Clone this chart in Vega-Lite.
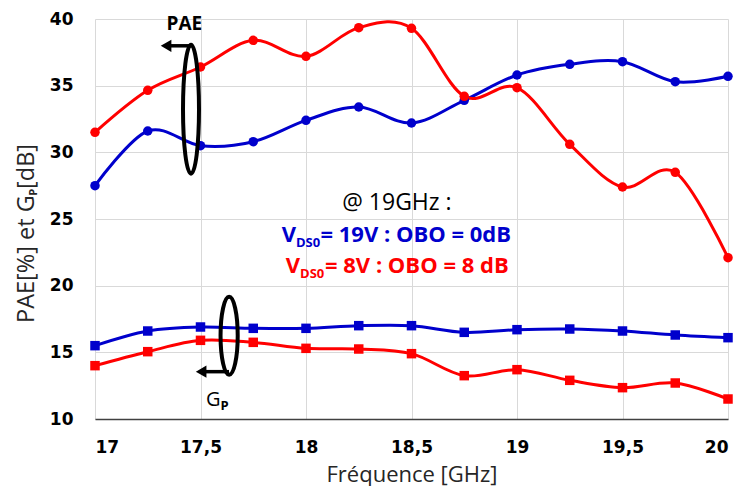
{
  "$schema": "https://vega.github.io/schema/vega-lite/v6.json",
  "width": 633,
  "height": 400,
  "autosize": {"type": "none"},
  "padding": {"left": 95, "top": 19, "right": 12, "bottom": 67},
  "background": "white",
  "config": {
    "view": {"stroke": null},
    "axis": {"gridColor": "#d9d9d9", "gridWidth": 1, "ticks": false, "labelFont": "DejaVu Sans", "labelFontWeight": "bold", "labelFontSize": 17, "labelColor": "#000000"}
  },
  "data": {"values": [
    {"f": 17, "m": "PAE", "b": "19V", "v": 27.5},
    {"f": 17.25, "m": "PAE", "b": "19V", "v": 31.6},
    {"f": 17.5, "m": "PAE", "b": "19V", "v": 30.5},
    {"f": 17.75, "m": "PAE", "b": "19V", "v": 30.8},
    {"f": 18, "m": "PAE", "b": "19V", "v": 32.4},
    {"f": 18.25, "m": "PAE", "b": "19V", "v": 33.4},
    {"f": 18.5, "m": "PAE", "b": "19V", "v": 32.2},
    {"f": 18.75, "m": "PAE", "b": "19V", "v": 33.9},
    {"f": 19, "m": "PAE", "b": "19V", "v": 35.8},
    {"f": 19.25, "m": "PAE", "b": "19V", "v": 36.6},
    {"f": 19.5, "m": "PAE", "b": "19V", "v": 36.8},
    {"f": 19.75, "m": "PAE", "b": "19V", "v": 35.3},
    {"f": 20, "m": "PAE", "b": "19V", "v": 35.7},
    {"f": 17, "m": "PAE", "b": "8V", "v": 31.5},
    {"f": 17.25, "m": "PAE", "b": "8V", "v": 34.65},
    {"f": 17.5, "m": "PAE", "b": "8V", "v": 36.4},
    {"f": 17.75, "m": "PAE", "b": "8V", "v": 38.4},
    {"f": 18, "m": "PAE", "b": "8V", "v": 37.2},
    {"f": 18.25, "m": "PAE", "b": "8V", "v": 39.35},
    {"f": 18.5, "m": "PAE", "b": "8V", "v": 39.3},
    {"f": 18.75, "m": "PAE", "b": "8V", "v": 34.2},
    {"f": 19, "m": "PAE", "b": "8V", "v": 34.85},
    {"f": 19.25, "m": "PAE", "b": "8V", "v": 30.6},
    {"f": 19.5, "m": "PAE", "b": "8V", "v": 27.4},
    {"f": 19.75, "m": "PAE", "b": "8V", "v": 28.5},
    {"f": 20, "m": "PAE", "b": "8V", "v": 22.1},
    {"f": 17, "m": "Gp", "b": "19V", "v": 15.5},
    {"f": 17.25, "m": "Gp", "b": "19V", "v": 16.6},
    {"f": 17.5, "m": "Gp", "b": "19V", "v": 16.9},
    {"f": 17.75, "m": "Gp", "b": "19V", "v": 16.8},
    {"f": 18, "m": "Gp", "b": "19V", "v": 16.8},
    {"f": 18.25, "m": "Gp", "b": "19V", "v": 17.0},
    {"f": 18.5, "m": "Gp", "b": "19V", "v": 17.0},
    {"f": 18.75, "m": "Gp", "b": "19V", "v": 16.5},
    {"f": 19, "m": "Gp", "b": "19V", "v": 16.7},
    {"f": 19.25, "m": "Gp", "b": "19V", "v": 16.75},
    {"f": 19.5, "m": "Gp", "b": "19V", "v": 16.6},
    {"f": 19.75, "m": "Gp", "b": "19V", "v": 16.3},
    {"f": 20, "m": "Gp", "b": "19V", "v": 16.1},
    {"f": 17, "m": "Gp", "b": "8V", "v": 14.0},
    {"f": 17.25, "m": "Gp", "b": "8V", "v": 15.05},
    {"f": 17.5, "m": "Gp", "b": "8V", "v": 15.9},
    {"f": 17.75, "m": "Gp", "b": "8V", "v": 15.75},
    {"f": 18, "m": "Gp", "b": "8V", "v": 15.3},
    {"f": 18.25, "m": "Gp", "b": "8V", "v": 15.25},
    {"f": 18.5, "m": "Gp", "b": "8V", "v": 14.9},
    {"f": 18.75, "m": "Gp", "b": "8V", "v": 13.25},
    {"f": 19, "m": "Gp", "b": "8V", "v": 13.7},
    {"f": 19.25, "m": "Gp", "b": "8V", "v": 12.9},
    {"f": 19.5, "m": "Gp", "b": "8V", "v": 12.35},
    {"f": 19.75, "m": "Gp", "b": "8V", "v": 12.7},
    {"f": 20, "m": "Gp", "b": "8V", "v": 11.5}
  ]},
  "layer": [
    {
      "mark": {"type": "line", "interpolate": "cardinal", "strokeWidth": 3},
      "encoding": {
        "x": {"field": "f", "type": "quantitative", "scale": {"domain": [17, 20], "nice": false, "zero": false},
              "axis": {"values": [17, 17.5, 18, 18.5, 19, 19.5, 20], "format": "~g", "labelExpr": "replace(datum.label, '.', ',')", "labelPadding": 20, "domainColor": "#404040", "domainWidth": 1.5, "title": "Fréquence [GHz]", "titleFont": "Open Sans", "titleFontSize": 22, "titleFontWeight": "normal", "titleColor": "#262626", "titleY": 62, "titleBaseline": "alphabetic"}},
        "y": {"field": "v", "type": "quantitative", "scale": {"domain": [10, 40], "nice": false, "zero": false},
              "axis": {"values": [10, 15, 20, 25, 30, 35, 40], "labelPadding": 22, "domain": false, "title": ""}},
        "color": {"field": "b", "type": "nominal", "scale": {"domain": ["19V", "8V"], "range": ["#0000CC", "#FF0000"]}, "legend": null},
        "detail": {"field": "m", "type": "nominal"}
      }
    },
    {
      "mark": {"type": "point", "filled": true, "opacity": 1, "size": 90},
      "encoding": {
        "x": {"field": "f", "type": "quantitative"},
        "y": {"field": "v", "type": "quantitative"},
        "color": {"field": "b", "type": "nominal", "legend": null},
        "shape": {"field": "m", "type": "nominal", "scale": {"domain": ["PAE", "Gp"], "range": ["circle", "square"]}, "legend": null}
      }
    },
    {
      "data": {"values": [{}]},
      "mark": {"type": "point", "shape": "M0,-1A0.124,1,0,1,1,0,1A0.124,1,0,1,1,0,-1", "filled": false, "stroke": "#000000", "strokeWidth": 4, "size": 16641, "opacity": 1},
      "encoding": {"x": {"datum": 17.455, "type": "quantitative"}, "y": {"datum": 33.23, "type": "quantitative"}}
    },
    {
      "data": {"values": [{}]},
      "mark": {"type": "point", "shape": "M0,-1A0.22,1,0,1,1,0,1A0.22,1,0,1,1,0,-1", "filled": false, "stroke": "#000000", "strokeWidth": 4, "size": 6084, "opacity": 1},
      "encoding": {"x": {"datum": 17.6357, "type": "quantitative"}, "y": {"datum": 16.24, "type": "quantitative"}}
    },
    {
      "data": {"values": [{}]},
      "mark": {"type": "rule", "stroke": "#000000", "strokeWidth": 3.5},
      "encoding": {"x": {"datum": 17.33, "type": "quantitative"}, "x2": {"datum": 17.458}, "y": {"datum": 37.99, "type": "quantitative"}}
    },
    {
      "data": {"values": [{}]},
      "mark": {"type": "rule", "stroke": "#000000", "strokeWidth": 3.5},
      "encoding": {"x": {"datum": 17.5, "type": "quantitative"}, "x2": {"datum": 17.635}, "y": {"datum": 13.55, "type": "quantitative"}}
    },
    {
      "data": {"values": [{}]},
      "mark": {"type": "point", "shape": "triangle-left", "filled": true, "color": "#000000", "size": 150, "opacity": 1},
      "encoding": {"x": {"datum": 17.3367, "type": "quantitative"}, "y": {"datum": 37.99, "type": "quantitative"}}
    },
    {
      "data": {"values": [{}]},
      "mark": {"type": "point", "shape": "triangle-left", "filled": true, "color": "#000000", "size": 150, "opacity": 1},
      "encoding": {"x": {"datum": 17.503, "type": "quantitative"}, "y": {"datum": 13.55, "type": "quantitative"}}
    },
    {
      "data": {"values": [{}]},
      "mark": {"type": "text", "text": "PAE", "font": "Open Sans", "fontWeight": "bold", "fontSize": 19, "align": "center", "baseline": "alphabetic", "color": "#000000"},
      "encoding": {"x": {"datum": 17.4233, "type": "quantitative"}, "y": {"datum": 39.17, "type": "quantitative"}}
    },
    {
      "data": {"values": [{}]},
      "mark": {"type": "text", "text": "G", "font": "Open Sans", "fontSize": 20, "align": "right", "baseline": "alphabetic", "color": "#000000"},
      "encoding": {"x": {"datum": 17.5948, "type": "quantitative"}, "y": {"datum": 11.0, "type": "quantitative"}}
    },
    {
      "data": {"values": [{}]},
      "mark": {"type": "text", "text": "P", "font": "Open Sans", "fontWeight": "bold", "fontSize": 13, "align": "left", "baseline": "alphabetic", "color": "#000000"},
      "encoding": {"x": {"datum": 17.5948, "type": "quantitative"}, "y": {"datum": 10.675, "type": "quantitative"}}
    },
    {
      "data": {"values": [{}]},
      "mark": {"type": "text", "text": "@ 19GHz :", "font": "Open Sans", "fontSize": 23, "align": "center", "baseline": "alphabetic", "color": "#000000"},
      "encoding": {"x": {"datum": 18.431, "type": "quantitative"}, "y": {"datum": 25.675, "type": "quantitative"}}
    },
    {
      "data": {"values": [{}]},
      "mark": {"type": "text", "text": "V", "font": "Open Sans", "fontWeight": "bold", "fontSize": 22, "align": "right", "baseline": "alphabetic", "color": "#0000CC"},
      "encoding": {"x": {"datum": 17.9526, "type": "quantitative"}, "y": {"datum": 23.25, "type": "quantitative"}}
    },
    {
      "data": {"values": [{}]},
      "mark": {"type": "text", "text": "DS0", "font": "Open Sans", "fontWeight": "bold", "fontSize": 13, "align": "left", "baseline": "alphabetic", "color": "#0000CC"},
      "encoding": {"x": {"datum": 17.9526, "type": "quantitative"}, "y": {"datum": 22.9, "type": "quantitative"}}
    },
    {
      "data": {"values": [{}]},
      "mark": {"type": "text", "text": "= 19V : OBO = 0dB", "font": "Open Sans", "fontWeight": "bold", "fontSize": 22, "align": "left", "baseline": "alphabetic", "color": "#0000CC"},
      "encoding": {"x": {"datum": 18.0687, "type": "quantitative"}, "y": {"datum": 23.25, "type": "quantitative"}}
    },
    {
      "data": {"values": [{}]},
      "mark": {"type": "text", "text": "V", "font": "Open Sans", "fontWeight": "bold", "fontSize": 22, "align": "right", "baseline": "alphabetic", "color": "#FF0000"},
      "encoding": {"x": {"datum": 17.9716, "type": "quantitative"}, "y": {"datum": 20.93, "type": "quantitative"}}
    },
    {
      "data": {"values": [{}]},
      "mark": {"type": "text", "text": "DS0", "font": "Open Sans", "fontWeight": "bold", "fontSize": 13, "align": "left", "baseline": "alphabetic", "color": "#FF0000"},
      "encoding": {"x": {"datum": 17.9716, "type": "quantitative"}, "y": {"datum": 20.575, "type": "quantitative"}}
    },
    {
      "data": {"values": [{}]},
      "mark": {"type": "text", "text": "= 8V : OBO = 8 dB", "font": "Open Sans", "fontWeight": "bold", "fontSize": 22, "align": "left", "baseline": "alphabetic", "color": "#FF0000"},
      "encoding": {"x": {"datum": 18.09, "type": "quantitative"}, "y": {"datum": 20.93, "type": "quantitative"}}
    },
    {
      "data": {"values": [{}]},
      "mark": {"type": "text", "text": "PAE[%] et G", "font": "Open Sans", "fontSize": 23.5, "angle": 270, "align": "left", "baseline": "alphabetic", "color": "#262626"},
      "encoding": {"x": {"datum": 16.7123, "type": "quantitative"}, "y": {"datum": 17.2, "type": "quantitative"}}
    },
    {
      "data": {"values": [{}]},
      "mark": {"type": "text", "text": "P", "font": "Open Sans", "fontWeight": "bold", "fontSize": 11, "angle": 270, "align": "center", "baseline": "alphabetic", "color": "#262626"},
      "encoding": {"x": {"datum": 16.7237, "type": "quantitative"}, "y": {"datum": 27.0, "type": "quantitative"}}
    },
    {
      "data": {"values": [{}]},
      "mark": {"type": "text", "text": "[dB]", "font": "Open Sans", "fontSize": 23.5, "angle": 270, "align": "right", "baseline": "alphabetic", "color": "#262626"},
      "encoding": {"x": {"datum": 16.7123, "type": "quantitative"}, "y": {"datum": 30.625, "type": "quantitative"}}
    }
  ]
}
